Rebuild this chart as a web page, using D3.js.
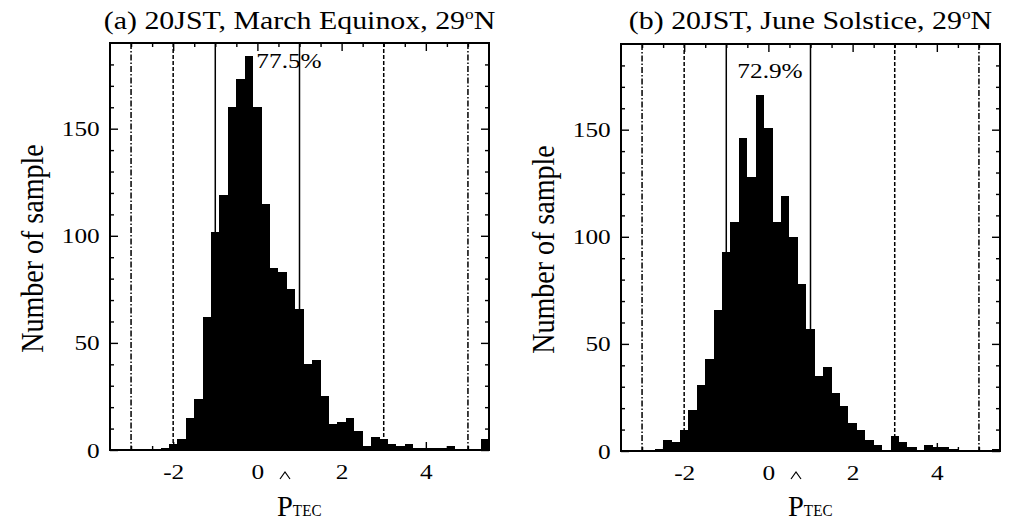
<!DOCTYPE html>
<html><head><meta charset="utf-8">
<script src="https://cdn.jsdelivr.net/npm/d3@7"></script>
<style>
body{margin:0;background:#fff}
svg{display:block}
text{font-family:"Liberation Serif","Times New Roman",serif;fill:#000}
</style>
</head><body><svg id="c" width="1018" height="525"></svg>
<script>
// ---- data ----
const binCenters = [-3.4,-3.2,-3.0,-2.8,-2.6,-2.4,-2.2,-2.0,-1.8,-1.6,-1.4,-1.2,-1.0,-0.8,-0.6,-0.4,-0.2,0.0,0.2,0.4,0.6,0.8,1.0,1.2,1.4,1.6,1.8,2.0,2.2,2.4,2.6,2.8,3.0,3.2,3.4,3.6,3.8,4.0,4.2,4.4,4.6,4.8,5.0,5.2,5.4];
const countsA = [0,0,0,0,0,0,1,3,5,15,24,62,102,119,160,173,184,160,115,85,83,75,66,40,42,25,12,13,15,9,2,6,5,3,2,3,1,1,1,1,2,0,0,0,5];
const countsB = [0,0,0,0,1,5,4,10,19,31,43,66,93,107,146,128,166,151,107,119,100,78,57,35,39,27,21,13,10,5,3,0,7,4,2,0,3,2,2,1,0,0,0,0,1];
const panelTitles = ["(a) 20JST, March Equinox, 29", "(b) 20JST, June Solstice, 29"];
const percentLabels = ["77.5%", "72.9%"];
const xTickValues = [-2, 0, 2, 4];
const yTickValues = [0, 50, 100, 150];
const solidLines = [-1, 1];
const dashedLines = [-2, 3];
const dashDotLines = [-3, 5];
const xDomain = [-3.5, 5.5];
const yDomain = [0, 190];

// ---- layout ----
const SX = 1.15; // horizontal stretch of the original picture
const panels = [
  {x0:110, x1:489, y0:43, y1:450, counts:countsA, title:panelTitles[0], pct:percentLabels[0], pctX:289, pctY:68, ylabX:43, xlabX:277},
  {x0:621, x1:1000, y0:44, y1:451, counts:countsB, title:panelTitles[1], pct:percentLabels[1], pctX:770, pctY:78, ylabX:554, xlabX:788}
];
const svg = d3.select("#c");
const binW = 0.2;

panels.forEach(p => {
  const x = d3.scaleLinear().domain(xDomain).range([p.x0, p.x1]);
  const y = d3.scaleLinear().domain(yDomain).range([p.y1, p.y0]);
  const g = svg.append("g");

  // bars
  g.selectAll("rect.bar").data(binCenters.map((c,i)=>({c, v:p.counts[i]})).filter(d=>d.v>0))
    .enter().append("rect").attr("class","bar")
    .attr("x", d => x(d.c - binW/2))
    .attr("width", d => x(d.c + binW/2) - x(d.c - binW/2))
    .attr("y", d => y(d.v))
    .attr("height", d => y(0) - y(d.v))
    .attr("fill", "#000").attr("shape-rendering","crispEdges");

  // reference lines
  const addLines = (vals, dash) => g.selectAll(null).data(vals).enter().append("line")
    .attr("x1", d => x(d)).attr("x2", d => x(d))
    .attr("y1", p.y0).attr("y2", p.y1)
    .attr("stroke", "#000").attr("stroke-width", 1.5)
    .attr("stroke-dasharray", dash);
  addLines(solidLines, null);
  addLines(dashedLines, "4,2");
  addLines(dashDotLines, "6,2,1.5,2");

  // axes
  const xMinor = d3.range(-3, 5.01, 0.5).filter(v => !xTickValues.includes(v));
  const yMinor = d3.range(10, 190, 10).filter(v => !yTickValues.includes(v));
  const styleAxis = sel => { sel.select(".domain").remove(); sel.selectAll("line").attr("stroke","#000").attr("stroke-width",1.4); };
  const fmt = d => String(d);

  g.append("g").attr("transform",`translate(0,${p.y1})`)
    .call(d3.axisBottom(x).tickValues(xMinor).tickSize(-4).tickFormat("")).call(styleAxis);
  g.append("g").attr("transform",`translate(0,${p.y0})`)
    .call(d3.axisTop(x).tickValues(xMinor).tickSize(-4).tickFormat("")).call(styleAxis);
  g.append("g").attr("transform",`translate(0,${p.y0})`)
    .call(d3.axisTop(x).tickValues(xTickValues).tickSize(-8).tickFormat("")).call(styleAxis);
  const xb = g.append("g").attr("transform",`translate(0,${p.y1})`)
    .call(d3.axisBottom(x).tickValues(xTickValues).tickSize(-8).tickPadding(13).tickFormat(fmt)).call(styleAxis);
  xb.selectAll("text").attr("font-size",22).attr("font-family",null).attr("transform",`scale(${SX},1)`);

  g.append("g").attr("transform",`translate(${p.x0},0)`)
    .call(d3.axisLeft(y).tickValues(yMinor).tickSize(-4).tickFormat("")).call(styleAxis);
  g.append("g").attr("transform",`translate(${p.x1},0)`)
    .call(d3.axisRight(y).tickValues(yMinor).tickSize(-4).tickFormat("")).call(styleAxis);
  g.append("g").attr("transform",`translate(${p.x1},0)`)
    .call(d3.axisRight(y).tickValues(yTickValues).tickSize(-8).tickFormat("")).call(styleAxis);
  const yl = g.append("g").attr("transform",`translate(${p.x0},0)`)
    .call(d3.axisLeft(y).tickValues(yTickValues).tickSize(-8).tickPadding(9).tickFormat(fmt)).call(styleAxis);
  yl.selectAll("text").attr("font-size",22).attr("font-family",null).attr("transform",`scale(${SX},1)`);

  // frame
  g.append("rect").attr("x",p.x0).attr("y",p.y0).attr("width",p.x1-p.x0).attr("height",p.y1-p.y0)
    .attr("fill","none").attr("stroke","#000").attr("stroke-width",2);

  // title
  const t = svg.append("text").attr("text-anchor","middle").attr("font-size",26)
    .attr("transform",`translate(${(p.x0+p.x1)/2},29) scale(${SX},1)`);
  t.append("tspan").text(p.title);
  t.append("tspan").attr("font-size",15).attr("dy",-10).text("o");
  t.append("tspan").attr("dy",10).text("N");

  // percentage
  svg.append("text").attr("text-anchor","middle").attr("font-size",22)
    .attr("transform",`translate(${p.pctX},${p.pctY}) scale(${SX},1)`).text(p.pct);

  // y label
  svg.append("text").attr("text-anchor","middle").attr("font-size",28)
    .attr("transform",`translate(${p.ylabX},${(p.y0+p.y1)/2 + 2}) scale(${SX},1) rotate(-90)`)
    .text("Number of sample");

  // x label  P-hat TEC
  const xl = svg.append("text").attr("font-size",30)
    .attr("transform",`translate(${p.xlabX},516) scale(0.95,1)`);
  xl.append("tspan").text("P");
  xl.append("tspan").attr("font-size",16).text("TEC");
  const hx = p.xlabX + 8;
  svg.append("path")
    .attr("d", `M${hx-5},479 L${hx},472 L${hx+5},479`)
    .attr("fill","none").attr("stroke","#000").attr("stroke-width",1.2);
});
</script>
</body></html>
